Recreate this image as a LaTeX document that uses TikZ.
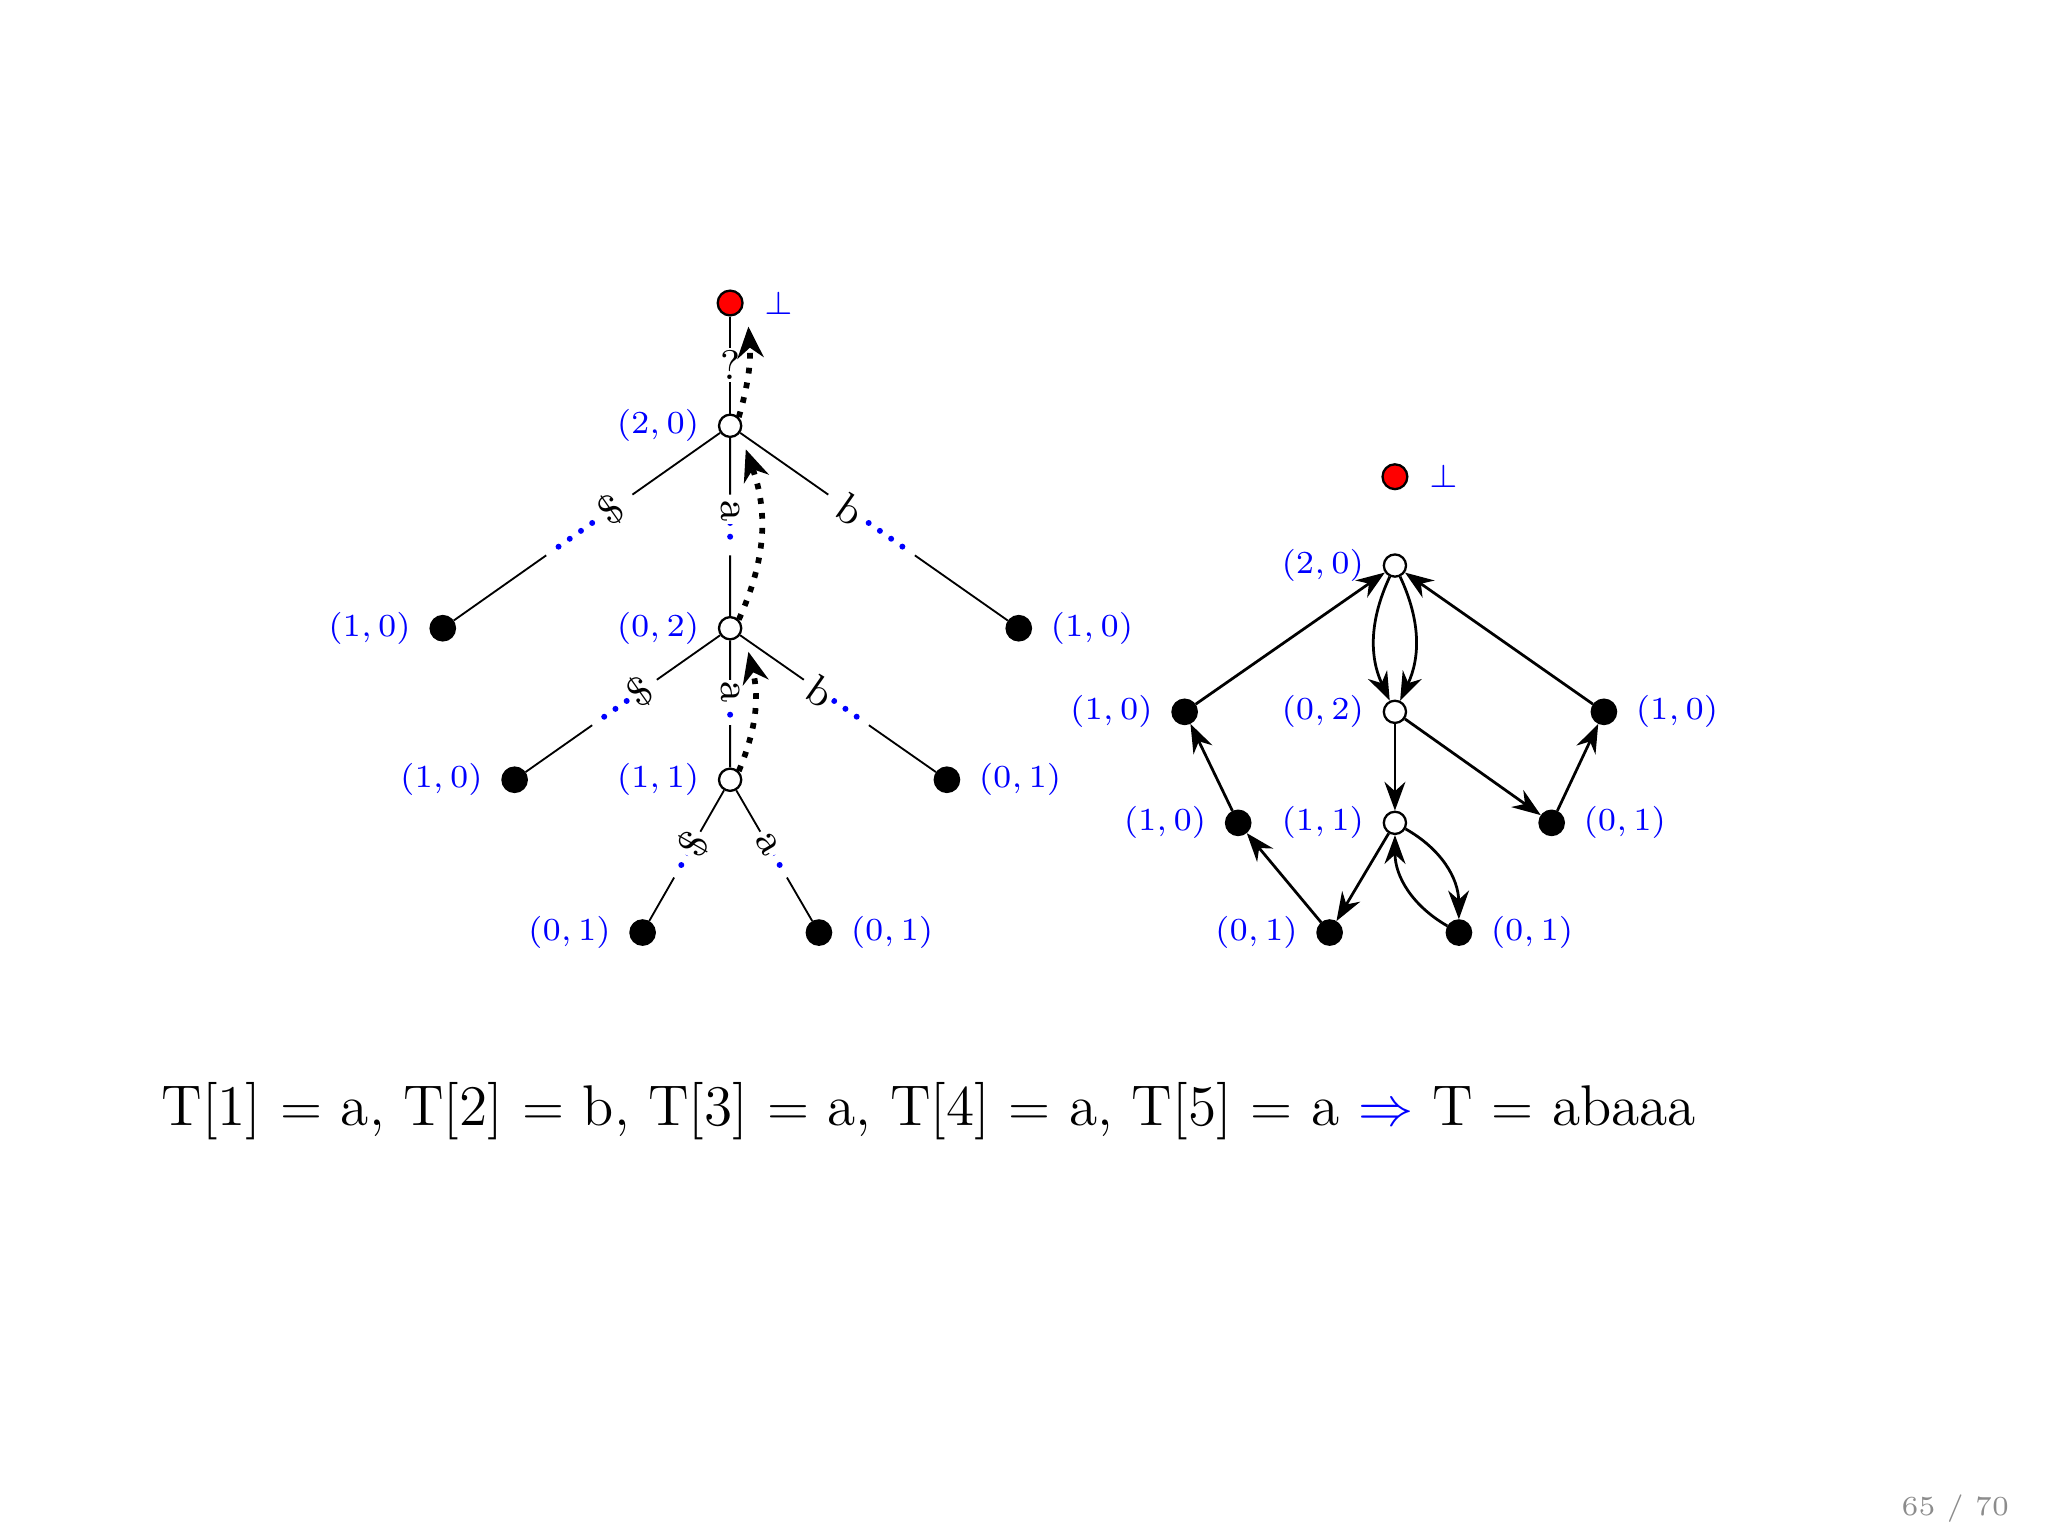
\documentclass[tikz,border=0pt]{standalone}
\usetikzlibrary{calc,arrows.meta,positioning}
\begin{document}
\begin{tikzpicture}[x=0.01cm,y=-0.01cm,
  open/.style={circle,draw,fill=white,inner sep=0pt,minimum size=0.17cm,line width=0.5pt},
  leaf/.style={circle,draw,fill=black,inner sep=0pt,minimum size=0.19cm},
  redn/.style={circle,draw,fill=red,inner sep=0pt,minimum size=0.19cm,line width=0.5pt},
  lab/.style={text=blue,font=\fontsize{7.2}{8.5}\selectfont,inner sep=1pt},
  elabel/.style={font=\fontsize{9}{10}\selectfont,inner sep=0.5pt,fill=white},
  bdots/.style={blue,line width=1.3pt,line cap=round,dash pattern=on 0pt off 1.05mm},
  slink/.style={line width=1.25pt,dotted,-{Stealth[length=2.4mm,width=2mm]}},
  arr/.style={-{Stealth[length=2.2mm,width=1.6mm]},line width=0.6pt}]
\useasboundingbox (0,0) rectangle (1568,1176);
\newcommand\tedge[3]{%
  \draw (#1) -- ($(#1)!0.34!(#2)$);
  \draw[bdots] ($(#1)!0.48!(#2)$) -- ($(#1)!0.6!(#2)$);
  \draw ($(#1)!0.64!(#2)$) -- (#2);
  \path (#1) -- node[pos=0.41,sloped,elabel]{#3} (#2);}
% left tree
\node[redn] (r) at (559,232) {};
\node[lab,right=0.12cm of r] {$\perp$};
\node[open] (a) at (559,326) {};
\node[open] (b) at (559,481) {};
\node[open] (c) at (559,597) {};
\node[leaf] (l1) at (339,481) {};
\node[leaf] (r1) at (780,481) {};
\node[leaf] (l2) at (394,597) {};
\node[leaf] (r2) at (725,597) {};
\node[leaf] (l3) at (492,714) {};
\node[leaf] (r3) at (627,714) {};
\node[lab,left=0.1cm of a] {$(2,0)$};
\node[lab,left=0.1cm of b] {$(0,2)$};
\node[lab,left=0.1cm of c] {$(1,1)$};
\node[lab,left=0.1cm of l1] {$(1,0)$};
\node[lab,right=0.1cm of r1] {$(1,0)$};
\node[lab,left=0.1cm of l2] {$(1,0)$};
\node[lab,right=0.1cm of r2] {$(0,1)$};
\node[lab,left=0.1cm of l3] {$(0,1)$};
\node[lab,right=0.1cm of r3] {$(0,1)$};
\draw (a) -- node[elabel,pos=0.5]{?} (r);
\tedge{a}{l1}{\$}
\tedge{a}{b}{a}
\tedge{a}{r1}{b}
\tedge{b}{l2}{\$}
\tedge{b}{c}{a}
\tedge{b}{r2}{b}
\tedge{c}{l3}{\$}
\tedge{c}{r3}{a}
\draw[slink] (a.north east) to[bend right=10] ($(r)+(14,18)$);
\draw[slink] (b.north east) to[bend right=22] ($(a)+(12,18)$);
\draw[slink] (c.north east) to[bend right=18] ($(b)+(14,18)$);
% right graph
\node[redn] (R) at (1068,365) {};
\node[lab,right=0.12cm of R] {$\perp$};
\node[open] (A) at (1068,433) {};
\node[open] (B) at (1068,545) {};
\node[open] (C) at (1068,630) {};
\node[leaf] (P) at (907,545) {};
\node[leaf] (Q) at (1228,545) {};
\node[leaf] (S) at (948,630) {};
\node[leaf] (D) at (1188,630) {};
\node[leaf] (E) at (1018,714) {};
\node[leaf] (F) at (1117,714) {};
\node[lab,left=0.1cm of A] {$(2,0)$};
\node[lab,left=0.1cm of B] {$(0,2)$};
\node[lab,left=0.1cm of C] {$(1,1)$};
\node[lab,left=0.1cm of P] {$(1,0)$};
\node[lab,right=0.1cm of Q] {$(1,0)$};
\node[lab,left=0.1cm of S] {$(1,0)$};
\node[lab,right=0.1cm of D] {$(0,1)$};
\node[lab,left=0.1cm of E] {$(0,1)$};
\node[lab,right=0.1cm of F] {$(0,1)$};
\draw[arr] (P) -- (A);
\draw[arr] (Q) -- (A);
\draw[arr] (A) to[bend right=25] (B);
\draw[arr] (A) to[bend left=25] (B);
\draw[arr] (B) -- (C);
\draw[arr] (B) -- (D);
\draw[arr] (D) -- (Q);
\draw[arr] (S) -- (P);
\draw[arr] (E) -- (S);
\draw[arr] (C) -- (E);
\draw[arr] (C) to[bend left=30] (F);
\draw[arr] (F) to[bend left=30] (C);
% text
\node[anchor=west,inner sep=0pt,font=\fontsize{12.5}{15}\selectfont] (txt) at (123,851)
  {T[1] $=$ a, T[2] $=$ b, T[3] $=$ a, T[4] $=$ a, T[5] $=$ a {\color{blue}$\Rightarrow$} T $=$ abaaa};
\node[text=black!45,font=\fontsize{6}{7}\selectfont] (pg) at (1497,1155) {65 / 70};
\end{tikzpicture}
\end{document}
